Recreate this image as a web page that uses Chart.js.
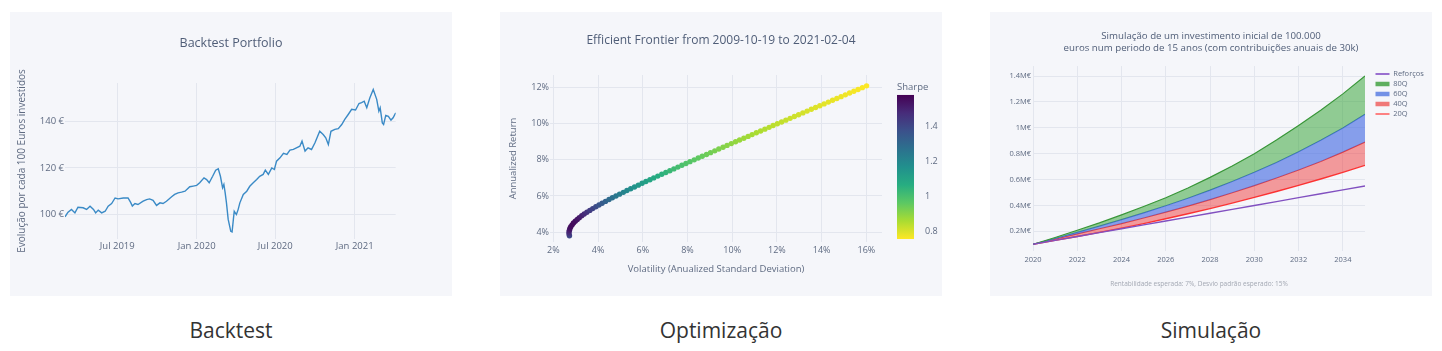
<!DOCTYPE html>
<html lang="pt">
<head>
<meta charset="UTF-8">
<title>Backtest · Optimização · Simulação</title>
<script src="https://cdn.jsdelivr.net/npm/chart.js@4.4.1/dist/chart.umd.min.js"></script>
<style>
*{box-sizing:border-box;margin:0;padding:0}
body{width:1442px;height:351px;background:#fff;font-family:'Open Sans',sans-serif;position:relative;overflow:hidden}
.panel{position:absolute;top:12px;width:442px;height:284px;background:#f5f6fa}
.panel canvas{display:block}
.caption{position:absolute;top:316px;width:442px;text-align:center;font-size:21px;line-height:28px;color:#333}
</style>
</head>
<body>
<div class="panel" style="left:10px"><canvas id="backtest" width="442" height="284"></canvas></div>
<div class="panel" style="left:500px"><canvas id="frontier" width="442" height="284"></canvas></div>
<div class="panel" style="left:990px"><canvas id="simulation" width="442" height="284"></canvas></div>
<div class="caption" style="left:10px">Backtest</div>
<div class="caption" style="left:500px">Optimização</div>
<div class="caption" style="left:990px">Simulação</div>

<script>
// ---- Backtest portfolio (value per 100 € invested)
const btDates = [
  '2019-03-02','2019-03-09','2019-03-17','2019-03-25','2019-04-01','2019-04-13','2019-04-21','2019-04-29',
  '2019-05-07','2019-05-12','2019-05-18','2019-05-26','2019-06-03','2019-06-10','2019-06-18','2019-06-26',
  '2019-07-03','2019-07-15','2019-07-26','2019-08-01','2019-08-05','2019-08-11','2019-08-18','2019-08-30',
  '2019-09-07','2019-09-14','2019-09-22','2019-09-30','2019-10-08','2019-10-15','2019-10-23','2019-11-04',
  '2019-11-11','2019-11-19','2019-11-27','2019-12-05','2019-12-16','2019-12-24','2020-01-01','2020-01-08',
  '2020-01-18','2020-01-24','2020-01-30','2020-02-07','2020-02-14','2020-02-20','2020-02-25','2020-03-01',
  '2020-03-04','2020-03-07','2020-03-10','2020-03-14','2020-03-18','2020-03-20','2020-03-23','2020-03-26',
  '2020-03-28','2020-04-02','2020-04-06','2020-04-10','2020-04-18','2020-04-26','2020-05-03','2020-05-11',
  '2020-05-19','2020-05-26','2020-06-03','2020-06-08','2020-06-15','2020-06-23','2020-06-29','2020-07-04',
  '2020-07-12','2020-07-20','2020-07-28','2020-08-04','2020-08-12','2020-08-19','2020-08-27','2020-09-01',
  '2020-09-08','2020-09-15','2020-09-23','2020-10-01','2020-10-12','2020-10-20','2020-10-26','2020-11-01',
  '2020-11-07','2020-11-16','2020-11-24','2020-12-02','2020-12-09','2020-12-17','2020-12-25','2021-01-03',
  '2021-01-11','2021-01-17','2021-01-23','2021-01-29','2021-02-05','2021-02-13','2021-02-21','2021-02-26',
  '2021-03-01','2021-03-06','2021-03-09','2021-03-14','2021-03-20','2021-03-26','2021-03-31','2021-04-06'
];
const btValues = [
  99.0,101.0,102.2,100.7,103.1,102.9,102.2,103.6,
  102.2,100.7,101.9,100.7,101.4,103.6,104.7,107.1,
  106.7,107.1,107.1,105.2,103.6,104.7,104.3,105.7,
  106.4,106.7,106.1,103.9,105.0,104.7,105.7,107.6,
  108.6,109.3,109.6,110.0,111.9,112.2,112.5,113.6,
  115.7,115.0,113.6,116.4,119.0,119.6,116.4,111.5,
  112.9,109.3,105.0,97.9,94.5,92.8,92.5,97.9,
  101.4,100.0,102.1,105.0,108.6,110.0,112.1,113.6,
  115.0,116.4,117.2,119.0,117.2,120.0,119.3,122.9,
  124.3,126.2,125.8,127.6,127.9,128.6,129.3,131.5,
  127.2,128.6,127.9,130.8,135.7,134.3,132.9,130.0,
  135.7,136.5,136.8,138.6,140.8,142.9,145.1,144.8,
  147.6,148.0,148.6,145.8,150.0,153.6,149.4,144.3,
  145.8,139.3,138.6,142.5,142.1,140.5,141.5,143.6
];
const btTickDates = ['2019-07-01','2020-01-01','2020-07-01','2021-01-01'];
const btTickLabels = ['Jul 2019','Jan 2020','Jul 2020','Jan 2021'];
const btYTicks = [100, 120, 140];

// ---- Efficient frontier (annualized %)
const efRet = [
  3.8,3.9,4.0,4.1,4.2,4.3,4.4,4.5,4.6,4.7,4.8,4.9,5.0,5.1,5.2,5.3,5.4,5.5,5.6,5.7,
  5.8,5.9,6.0,6.1,6.2,6.3,6.4,6.5,6.6,6.7,6.8,6.9,7.0,7.1,7.2,7.3,7.4,7.5,7.6,7.7,
  7.8,7.9,8.0,8.1,8.2,8.3,8.4,8.5,8.6,8.7,8.8,8.9,9.0,9.1,9.2,9.3,9.4,9.5,9.6,9.7,
  9.8,9.9,10.0,10.1,10.2,10.3,10.4,10.5,10.6,10.7,10.8,10.9,11.0,11.1,11.2,11.3,11.4,11.5,11.6,11.7,
  11.8,11.9,12.0,12.1
];
const efVol = [
  2.72,2.70,2.70,2.72,2.74,2.78,2.84,2.90,2.98,3.07,3.16,3.27,3.38,3.50,3.63,3.76,3.90,4.04,4.18,4.33,
  4.49,4.64,4.80,4.96,5.13,5.29,5.46,5.63,5.80,5.97,6.14,6.32,6.49,6.67,6.85,7.03,7.21,7.39,7.57,7.75,
  7.93,8.11,8.30,8.48,8.66,8.85,9.03,9.22,9.40,9.59,9.77,9.96,10.15,10.33,10.52,10.71,10.89,11.08,11.27,11.46,
  11.65,11.83,12.02,12.21,12.40,12.59,12.78,12.97,13.16,13.35,13.54,13.73,13.92,14.11,14.30,14.49,14.68,14.87,15.06,15.25,
  15.44,15.63,15.82,16.01
];
const efXTicks = [2, 4, 6, 8, 10, 12, 14, 16];
const efYTicks = [4, 6, 8, 10, 12];
const sharpeRange = [0.754, 1.577];
const sharpeTicks = [0.8, 1, 1.2, 1.4];

// ---- Simulation (M€)
const simYears = [2020,2021,2022,2023,2024,2025,2026,2027,2028,2029,2030,2031,2032,2033,2034,2035];
const simReforcos = [0.10,0.13,0.16,0.19,0.22,0.25,0.28,0.31,0.34,0.37,0.40,0.43,0.46,0.49,0.52,0.55];
const sim80 = [0.100,0.152,0.208,0.265,0.327,0.392,0.460,0.535,0.617,0.705,0.800,0.905,1.018,1.135,1.262,1.400];
const sim60 = [0.100,0.145,0.192,0.240,0.290,0.343,0.398,0.456,0.518,0.585,0.656,0.732,0.815,0.903,0.998,1.105];
const sim40 = [0.100,0.140,0.180,0.220,0.260,0.303,0.348,0.395,0.445,0.498,0.553,0.612,0.674,0.740,0.812,0.890];
const sim20 = [0.100,0.130,0.160,0.192,0.225,0.260,0.297,0.336,0.376,0.418,0.462,0.508,0.555,0.604,0.656,0.710];
const simXTicks = [2020,2022,2024,2026,2028,2030,2032,2034];
const simYTicks = [0.2,0.4,0.6,0.8,1.0,1.2,1.4];
const simYLabels = ['0.2M€','0.4M€','0.6M€','0.8M€','1M€','1.2M€','1.4M€'];

const TITLE = '#4f5d77', TEXT = '#5f6b82', GRID = '#e3e6ee';
Chart.defaults.font.family = "'Open Sans', sans-serif";
Chart.defaults.color = TEXT;

const day = s => Date.parse(s);
const setTicks = list => s => { s.ticks = list.map(v => ({ value: v })); };
const noBorder = { display: false };
const grid = { color: GRID, drawTicks: false };
// empty axis used only to reserve room next to the plot
const spacer = w => ({
  axis: 'y', position: 'right', display: true,
  grid: { display: false }, border: noBorder, ticks: { display: false },
  afterFit: s => { s.width = w; },
});

// Backtest
new Chart(document.getElementById('backtest'), {
  type: 'line',
  data: {
    datasets: [{
      data: btDates.map((d, i) => ({ x: day(d), y: btValues[i] })),
      borderColor: '#3a8ac6', borderWidth: 1.4, pointRadius: 0, tension: 0,
    }]
  },
  options: {
    responsive: false, animation: false,
    layout: { padding: 0 },
    plugins: {
      legend: { display: false }, tooltip: { enabled: false },
      title: { display: true, text: 'Backtest Portfolio', color: TITLE,
        font: { size: 12.5, weight: 'normal' }, padding: { top: 23.5, bottom: 32.5 } },
    },
    scales: {
      x: {
        type: 'linear', min: day(btDates[0]), max: day(btDates[btDates.length - 1]),
        afterBuildTicks: setTicks(btTickDates.map(day)),
        ticks: { callback: v => btTickLabels[btTickDates.map(day).indexOf(v)], font: { size: 9.5 }, padding: 2, maxRotation: 0, autoSkip: false },
        grid, border: noBorder, afterFit: s => { s.height = 57; },
      },
      y: {
        min: 89.5, max: 156.4,
        afterBuildTicks: setTicks(btYTicks),
        ticks: { callback: v => v + ' €', font: { size: 9.5 }, padding: 1 },
        grid, border: noBorder,
        title: { display: true, text: 'Evolução por cada 100 Euros investidos', font: { size: 10 }, padding: { top: 6, bottom: 0 } },
        afterFit: s => { s.width = 55; },
      },
      pad: spacer(56.3),
    },
  },
});

// Efficient frontier
const viridis = ['#440154','#472c7a','#3b518b','#2c718e','#21908d','#27ad81','#5cc863','#aadc32','#fde725'];
function viridisAt(t) {
  t = Math.min(1, Math.max(0, t)) * (viridis.length - 1);
  const i = Math.min(viridis.length - 2, Math.floor(t)), f = t - i;
  const a = viridis[i], b = viridis[i + 1];
  const c = k => Math.round(parseInt(a.substr(k, 2), 16) * (1 - f) + parseInt(b.substr(k, 2), 16) * f);
  return `rgb(${c(1)},${c(3)},${c(5)})`;
}
// reversed scale: high Sharpe -> dark purple
const sharpeColor = v => viridisAt(1 - (v - sharpeRange[0]) / (sharpeRange[1] - sharpeRange[0]));

const colorbar = {
  id: 'colorbar',
  afterDraw(chart) {
    const s = chart.scales.cb, ctx = chart.ctx;
    const top = s.getPixelForValue(sharpeRange[1]), bot = s.getPixelForValue(sharpeRange[0]);
    const g = ctx.createLinearGradient(0, top, 0, bot);
    viridis.forEach((c, i) => g.addColorStop(i / (viridis.length - 1), c));
    ctx.save();
    ctx.fillStyle = g;
    ctx.fillRect(s.left + 15, top, 17, bot - top);
    ctx.fillStyle = TEXT;
    ctx.font = "9.5px 'Open Sans', sans-serif";
    ctx.textBaseline = 'middle';
    ctx.fillText('Sharpe', s.left + 15, top - 8);
    ctx.restore();
  }
};

new Chart(document.getElementById('frontier'), {
  type: 'scatter',
  data: {
    datasets: [{
      data: efVol.map((v, i) => ({ x: v, y: efRet[i] })),
      pointBackgroundColor: efVol.map((v, i) => sharpeColor(efRet[i] / v)),
      pointRadius: 2.7, pointBorderWidth: 0,
    }]
  },
  options: {
    responsive: false, animation: false,
    layout: { padding: 0 },
    plugins: {
      legend: { display: false }, tooltip: { enabled: false },
      title: { display: true, text: 'Efficient Frontier from 2009-10-19 to 2021-02-04', color: TITLE,
        font: { size: 12, weight: 'normal' }, padding: { top: 21.8, bottom: 26.8 } },
    },
    scales: {
      x: {
        type: 'linear', min: 1.85, max: 16.7,
        afterBuildTicks: setTicks(efXTicks),
        ticks: { callback: v => v + '%', font: { size: 9 }, padding: 3, maxRotation: 0, autoSkip: false },
        grid, border: noBorder,
        title: { display: true, text: 'Volatility (Anualized Standard Deviation)', font: { size: 9.5 }, padding: { top: 0, bottom: 21.3 } },
        afterFit: s => { s.height = 54; },
      },
      y: {
        min: 3.45, max: 12.7,
        afterBuildTicks: setTicks(efYTicks),
        ticks: { callback: v => v + '%', font: { size: 9 }, padding: 1 },
        grid, border: noBorder,
        title: { display: true, text: 'Annualized Return', font: { size: 9.5 }, padding: { top: 7.3, bottom: 0 } },
        afterFit: s => { s.width = 50; },
      },
      cb: {
        axis: 'y', position: 'right', min: 0.737, max: 1.691,
        afterBuildTicks: setTicks(sharpeTicks),
        ticks: { callback: v => String(v), font: { size: 9 }, padding: 35 },
        grid: { display: false }, border: noBorder,
        afterFit: s => { s.width = 60; },
      },
    },
  },
  plugins: [colorbar],
});

// Simulation
const simSeries = [
  { label: 'Reforços', values: simReforcos, line: '#8150c0', fill: false, legend: '#9a6fd0', lw: 2 },
  { label: '80Q', values: sim80, line: 'rgb(56,150,56)', fill: 'rgba(44,160,44,0.5)', legend: 'rgb(95,175,95)', lw: 4.5 },
  { label: '60Q', values: sim60, line: 'rgb(70,110,220)', fill: 'rgba(60,100,225,0.6)', legend: 'rgb(115,145,230)', lw: 4.5 },
  { label: '40Q', values: sim40, line: 'rgb(232,60,60)', fill: 'rgba(240,40,40,0.45)', legend: 'rgb(240,120,120)', lw: 4.5 },
  { label: '20Q', values: sim20, line: 'rgb(255,55,55)', fill: false, legend: 'rgb(255,90,90)', lw: 1.5 },
];

new Chart(document.getElementById('simulation'), {
  type: 'line',
  data: {
    datasets: simSeries.map(s => ({
      label: s.label,
      data: simYears.map((y, i) => ({ x: y, y: s.values[i] })),
      borderColor: s.line, borderWidth: s.fill ? 1.2 : 1.4,
      backgroundColor: s.fill || 'transparent',
      fill: s.fill ? '+1' : false,
      pointRadius: 0, tension: 0,
      legendColor: s.legend, legendWidth: s.lw,
    }))
  },
  options: {
    responsive: false, animation: false,
    layout: { padding: 0 },
    plugins: {
      tooltip: { enabled: false },
      title: { display: true, color: TITLE, font: { size: 9.7, weight: 'normal', lineHeight: 1.25 },
        text: ['Simulação de um investimento inicial de 100.000', 'euros num periodo de 15 anos (com contribuições anuais de 30k)'],
        padding: { top: 17.8, bottom: 12 } },
      subtitle: { display: true, position: 'bottom', fullSize: false, color: '#a3a8b3',
        text: 'Rentabilidade esperada: 7%, Desvio padrão esperado: 15%',
        font: { size: 6.5 }, padding: { top: 0, bottom: 8.2 } },
      legend: {
        position: 'right', align: 'start', fullSize: false, maxWidth: 59,
        title: { display: true, text: ' ', padding: 0, font: { size: 1.75, lineHeight: 1 } },
        labels: {
          usePointStyle: true, pointStyle: 'line', pointStyleWidth: 14,
          font: { size: 7.5 }, padding: 2.5, color: TEXT,
          generateLabels: chart => chart.data.datasets.map((ds, i) => ({
            text: ds.label, strokeStyle: ds.legendColor, fillStyle: ds.legendColor,
            lineWidth: ds.legendWidth, pointStyle: 'line', datasetIndex: i, hidden: false, fontColor: TEXT,
          })),
        },
      },
    },
    scales: {
      x: {
        type: 'linear', min: 2020, max: 2035,
        afterBuildTicks: setTicks(simXTicks),
        ticks: { callback: v => String(v), font: { size: 7.5 }, padding: 4, maxRotation: 0, autoSkip: false },
        grid, border: noBorder, afterFit: s => { s.height = 28.6; },
      },
      y: {
        min: 0.045, max: 1.477,
        afterBuildTicks: setTicks(simYTicks),
        ticks: { callback: v => simYLabels[simYTicks.indexOf(v)], font: { size: 7.5 }, padding: 2 },
        grid, border: noBorder, afterFit: s => { s.width = 43; },
      },
      gap: spacer(8),
    },
  },
});
</script>
</body>
</html>
